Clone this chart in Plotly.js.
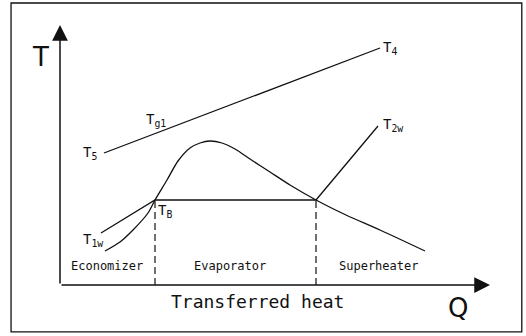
<!DOCTYPE html>
<html><head><meta charset="utf-8">
<script src="https://cdn.plot.ly/plotly-3.0.1.min.js"></script>
<style>html,body{margin:0;padding:0;background:#fff}#c{width:526px;height:336px}</style>
</head><body><div id="c"></div>
<script>
// Gas line (T5 -> T4)
const gasQ = [4.4, 32.0];
const gasT = [13.2, 23.7];
// Bell-shaped curve
const curveQ = [4.5, 6.0, 7.3, 8.8, 9.5, 10.7, 11.8, 13.0, 14.0, 15.0, 16.2, 17.5, 19.0, 21.0, 23.0, 25.6, 28.6, 32.0, 36.5];
const curveT = [3.4, 4.3, 5.5, 7.2, 8.5, 10.5, 12.4, 13.7, 14.2, 14.4, 14.2, 13.6, 12.6, 11.3, 10.0, 8.5, 7.0, 5.5, 3.4];
// Water/steam line (T1w -> TB -> evaporation -> T2w)
const waterQ = [4.1, 9.5, 25.6, 31.8];
const waterT = [5.2, 8.5, 8.5, 15.9];
// Section boundaries
const boundaryQ = [9.5, 25.6];
const boundaryT = 8.5;
const sectionNames = ["Economizer", "Evaporator", "Superheater"];
const sectionQ = [4.7, 17.0, 31.8];
const pointLabels = ["T<sub>5</sub>", "T<sub>g1</sub>", "T<sub>4</sub>", "T<sub>2w</sub>", "T<sub>1w</sub>", "T<sub>B</sub>"];
const pointQ = [3.0, 9.6, 33.0, 33.3, 3.3, 10.5];
const pointT = [13.2, 16.5, 23.7, 16.0, 4.5, 7.4];

const ink = '#111';
const traces = [
  {x: gasQ, y: gasT, mode: 'lines', line: {color: ink, width: 1.3}},
  {x: curveQ, y: curveT, mode: 'lines', line: {color: ink, width: 1.3, shape: 'spline', smoothing: 0.8}},
  {x: waterQ, y: waterT, mode: 'lines', line: {color: ink, width: 1.3}}
];
boundaryQ.forEach(q => traces.push({x: [q, q], y: [0, boundaryT], mode: 'lines', line: {color: ink, width: 1.2, dash: '7px,4px'}}));

const mono = 'DejaVu Sans Mono';
const ann = [];
// axes with arrowheads
ann.push({x: 0, y: 26, ax: 0, ay: 0, axref: 'x', ayref: 'y', xref: 'x', yref: 'y', text: '', showarrow: true, arrowhead: 2, arrowsize: 2.1, arrowwidth: 1.5, arrowcolor: ink});
ann.push({x: 43, y: 0, ax: 0, ay: 0, axref: 'x', ayref: 'y', xref: 'x', yref: 'y', text: '', showarrow: true, arrowhead: 2, arrowsize: 2.1, arrowwidth: 1.5, arrowcolor: ink});
ann.push({x: -2.0, y: 22.8, xref: 'x', yref: 'y', text: 'T', showarrow: false, font: {family: 'DejaVu Sans', size: 26, color: ink}});
ann.push({x: 39.8, y: -2.3, xref: 'x', yref: 'y', text: 'Q', showarrow: false, font: {family: 'DejaVu Sans', size: 26, color: ink}});
ann.push({x: 19.7, y: -1.6, xref: 'x', yref: 'y', text: 'Transferred heat', showarrow: false, font: {family: mono, size: 18, color: ink}});
sectionNames.forEach((s, i) => ann.push({x: sectionQ[i], y: 1.9, xref: 'x', yref: 'y', text: s, showarrow: false, font: {family: mono, size: 12, color: ink}}));
pointLabels.forEach((s, i) => ann.push({x: pointQ[i], y: pointT[i], xref: 'x', yref: 'y', text: s, showarrow: false, font: {family: mono, size: 14, color: ink}}));

const layout = {
  width: 526, height: 336,
  margin: {l: 0, r: 0, t: 0, b: 0},
  paper_bgcolor: '#fff', plot_bgcolor: '#fff',
  showlegend: false,
  xaxis: {range: [-6, 46.6], visible: false, fixedrange: true},
  yaxis: {range: [-5.1, 28.5], visible: false, fixedrange: true},
  shapes: [{type: 'rect', xref: 'paper', yref: 'paper', x0: 0.021, x1: 0.992, y0: 0.012, y1: 0.991, line: {color: ink, width: 1.3}}],
  annotations: ann
};
Plotly.newPlot('c', traces, layout, {staticPlot: true});
</script></body></html>
